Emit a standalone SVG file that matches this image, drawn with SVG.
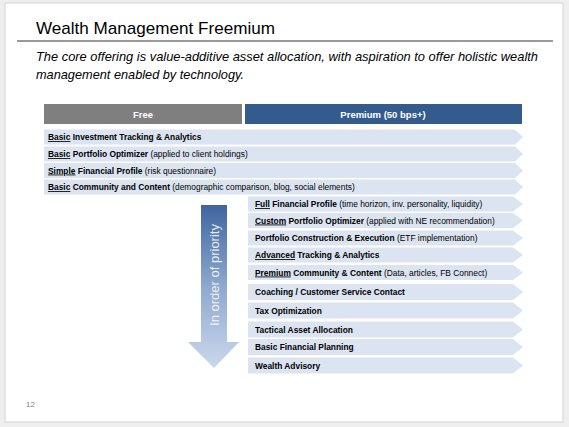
<svg xmlns="http://www.w3.org/2000/svg" width="569" height="427" viewBox="0 0 569 427">
<defs>
<linearGradient id="arrowGrad" x1="0" y1="0" x2="0" y2="1">
<stop offset="0" stop-color="#3f659f"/>
<stop offset="0.5" stop-color="#8ea8cf"/>
<stop offset="1" stop-color="#cbd8ec"/>
</linearGradient>
<style>
.row{fill:#dbe4f0;}
.rt{font-family:"Liberation Sans",Arial,sans-serif;font-size:8.4px;fill:#000;}
.b{font-weight:bold;}
.u{text-decoration:underline;font-weight:bold;}
.hdr{font-family:"Liberation Sans",Arial,sans-serif;font-size:9.5px;font-weight:bold;fill:#fff;text-anchor:middle;}
</style>
</defs>
<rect x="0" y="0" width="569" height="427" fill="#efefef"/>
<rect x="5" y="3" width="558" height="419" fill="#fff" stroke="#d4d4d4" stroke-width="1"/>
<text x="36" y="34" font-family="Liberation Sans, Arial, sans-serif" font-size="17" fill="#000" textLength="239" lengthAdjust="spacingAndGlyphs">Wealth Management Freemium</text>
<line x1="17" y1="41" x2="553" y2="41" stroke="#9a9a9a" stroke-width="2"/>
<text font-family="Liberation Sans, Arial, sans-serif" font-size="13" font-style="italic" fill="#000">
<tspan x="36" y="61" textLength="502" lengthAdjust="spacingAndGlyphs">The core offering is value-additive asset allocation, with aspiration to offer holistic wealth</tspan>
<tspan x="36" y="79" textLength="208" lengthAdjust="spacingAndGlyphs">management enabled by technology.</tspan>
</text>
<g id="header-free">
<rect x="44" y="104" width="198" height="20" fill="#7f7f7f"/>
<text class="hdr" x="143" y="117.5">Free</text>
</g>
<g id="header-premium">
<rect x="245" y="104" width="277" height="20" fill="#335b8d"/>
<text class="hdr" x="383" y="117.5">Premium (50 bps+)</text>
</g>
<g id="priority-arrow">
<path d="M201,205 H227 V342 H239 L214,368 L188,342 H201 Z" fill="url(#arrowGrad)"/>
<text x="0" y="0" transform="translate(218.5,275) rotate(-90)" font-family="Liberation Sans, Arial, sans-serif" font-size="13" fill="#fff" fill-opacity="0.85" text-anchor="middle">In order of priority</text>
</g>
<g id="connectors"></g>
<g id="free-1"><path class="row" d="M44,129.5 H515 L523,137 L515,144.5 H44 Z"/><text class="rt" x="48" y="140"><tspan class="u">Basic</tspan><tspan class="b"> Investment Tracking &amp; Analytics</tspan></text></g>
<g id="free-2"><path class="row" d="M44,146.5 H515 L523,154 L515,161.5 H44 Z"/><text class="rt" x="48" y="157"><tspan class="u">Basic</tspan><tspan class="b"> Portfolio Optimizer</tspan> (applied to client holdings)</text></g>
<g id="free-3"><path class="row" d="M44,163 H515 L523,170.5 L515,178 H44 Z"/><text class="rt" x="48" y="173.5"><tspan class="u">Simple</tspan><tspan class="b"> Financial Profile</tspan>   (risk questionnaire)</text></g>
<g id="free-4"><path class="row" d="M44,179.5 H515 L523,187 L515,194.5 H44 Z"/><text class="rt" x="48" y="190"><tspan class="u">Basic</tspan><tspan class="b"> Community and Content</tspan> (demographic comparison, blog, social elements)</text></g>
<g id="prem-1"><path class="row" d="M248,196.5 H513 L523,204 L513,211.5 H248 Z"/><text class="rt" x="255" y="207"><tspan class="u">Full</tspan><tspan class="b"> Financial Profile</tspan> (time horizon, inv. personality, liquidity)</text></g>
<g id="prem-2"><path class="row" d="M248,213 H513 L523,220.5 L513,228 H248 Z"/><text class="rt" x="255" y="223.5"><tspan class="u">Custom</tspan><tspan class="b"> Portfolio Optimizer</tspan> (applied with NE recommendation)</text></g>
<g id="prem-3"><path class="row" d="M248,230.5 H513 L523,238 L513,245.5 H248 Z"/><text class="rt" x="255" y="241"><tspan class="b">Portfolio Construction &amp; Execution</tspan> (ETF implementation)</text></g>
<g id="prem-4"><path class="row" d="M248,247.5 H513 L523,255 L513,262.5 H248 Z"/><text class="rt" x="255" y="258"><tspan class="u">Advanced</tspan><tspan class="b"> Tracking &amp; Analytics</tspan></text></g>
<g id="prem-5"><path class="row" d="M248,265 H513 L523,272.5 L513,280 H248 Z"/><text class="rt" x="255" y="275.5"><tspan class="u">Premium</tspan><tspan class="b"> Community &amp; Content</tspan> (Data, articles, FB Connect)</text></g>
<g id="prem-6"><path class="row" d="M248,284 H513 L523,292 L513,300 H248 Z"/><text class="rt b" x="255" y="295">Coaching / Customer Service Contact</text></g>
<g id="prem-7"><path class="row" d="M248,302.5 H513 L523,310.5 L513,318.5 H248 Z"/><text class="rt b" x="255" y="313.5">Tax Optimization</text></g>
<g id="prem-8"><path class="row" d="M248,321.5 H513 L523,329.5 L513,337.5 H248 Z"/><text class="rt b" x="255" y="332.5">Tactical Asset Allocation</text></g>
<g id="prem-9"><path class="row" d="M248,339 H513 L523,347 L513,355 H248 Z"/><text class="rt b" x="255" y="350">Basic Financial Planning</text></g>
<g id="prem-10"><path class="row" d="M248,357.5 H513 L523,365.5 L513,373.5 H248 Z"/><text class="rt b" x="255" y="368.5">Wealth Advisory</text></g>
<text x="26" y="407" font-family="Liberation Sans, Arial, sans-serif" font-size="8" fill="#7f7f7f">12</text>
</svg>
